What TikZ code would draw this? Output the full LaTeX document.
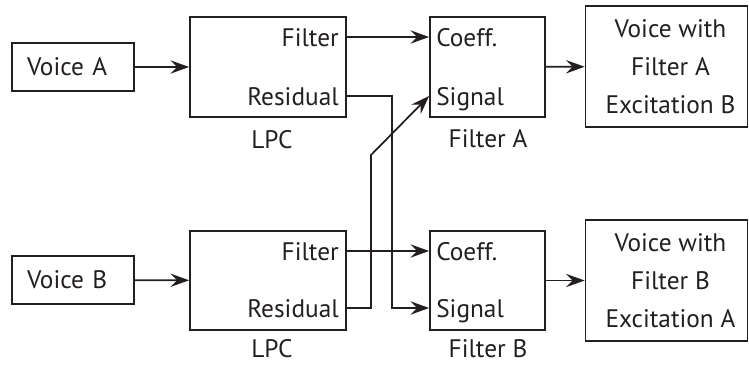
\documentclass[tikz,border=0pt]{standalone}
\usepackage{fontspec}
\setmainfont{PT Sans}
\usetikzlibrary{arrows.meta}
\definecolor{ink}{HTML}{231F20}
\begin{document}
\begin{tikzpicture}[x=0.75pt,y=-0.75pt,
  every node/.style={font=\fontsize{19}{28.5}\selectfont, text=ink},
  box/.style={draw=ink, line width=1.3pt, inner sep=0pt},
  voicebox/.style={box, minimum width=91.5pt, minimum height=36pt, text width=69pt, align=left, inner xsep=11.25pt},
  lpcbox/.style={box, minimum width=117pt, minimum height=74.6pt},
  filtbox/.style={box, minimum width=86.25pt, minimum height=74.6pt},
  outbox/.style={box, minimum width=121.5pt, minimum height=90.75pt, align=center},
  port/.style={inner sep=0pt, text height=14pt, text depth=0pt},
  lbl/.style={anchor=base, inner sep=0pt},
  wire/.style={draw=ink, line width=1.3pt},
  arr/.style={wire, -{Stealth[length=14pt,width=10pt,inset=5pt]}}]
\useasboundingbox (0,0) rectangle (749,364);
% boxes
\node[voicebox] (VA) at (73,67) {Voice A};
\node[voicebox] (VB) at (73,280) {Voice B};
\node[lpcbox] (LA) at (268,67) {};
\node[lpcbox] (LB) at (268,280.5) {};
\node[filtbox] (FA) at (487.5,67) {};
\node[filtbox] (FB) at (487.5,280.5) {};
\node[outbox] (OA) at (666.5,66.5) {\hspace*{6pt}Voice with\\\hspace*{6pt}Filter A\\\hspace*{6pt}Excitation B};
\node[outbox] (OB) at (666.5,280.5) {\hspace*{6pt}Voice with\\\hspace*{6pt}Filter B\\\hspace*{6pt}Excitation A};
% ports
\node[port, anchor=east] (fA) at (339,37) {Filter};
\node[port, anchor=east] (rA) at (339,96) {Residual};
\node[port, anchor=west] (cA) at (436,37) {Coeff.};
\node[port, anchor=west] (sA) at (436,96) {Signal};
\node[port, anchor=east] (fB) at (339,251) {Filter};
\node[port, anchor=east] (rB) at (339,308) {Residual};
\node[port, anchor=west] (cB) at (436,251) {Coeff.};
\node[port, anchor=west] (sB) at (436,308) {Signal};
% labels
\node[lbl] (tLA) at (272,148) {LPC};
\node[lbl] (tLB) at (272,357) {LPC};
\node[lbl] (tFA) at (488,147) {Filter A};
\node[lbl] (tFB) at (488,357) {Filter B};
% bend points
\coordinate (jA) at (392,96);
\coordinate (kB) at (371,155);
% connectors
\draw[arr] (VA) -- (LA);
\draw[arr] (VB) -- (LB);
\draw[arr] (LA.east |- fA) -- (FA.west |- cA);
\draw[arr] (LB.east |- fB) -- (FB.west |- cB);
\draw[arr] (LA.east |- rA) -- (jA) |- (FB.west |- sB);
\draw[arr] (LB.east |- rB) -| (kB) -- (FA.west |- sA);
\draw[arr] (FA) -- (OA);
\draw[arr] (FB) -- (OB);
\end{tikzpicture}
\end{document}
